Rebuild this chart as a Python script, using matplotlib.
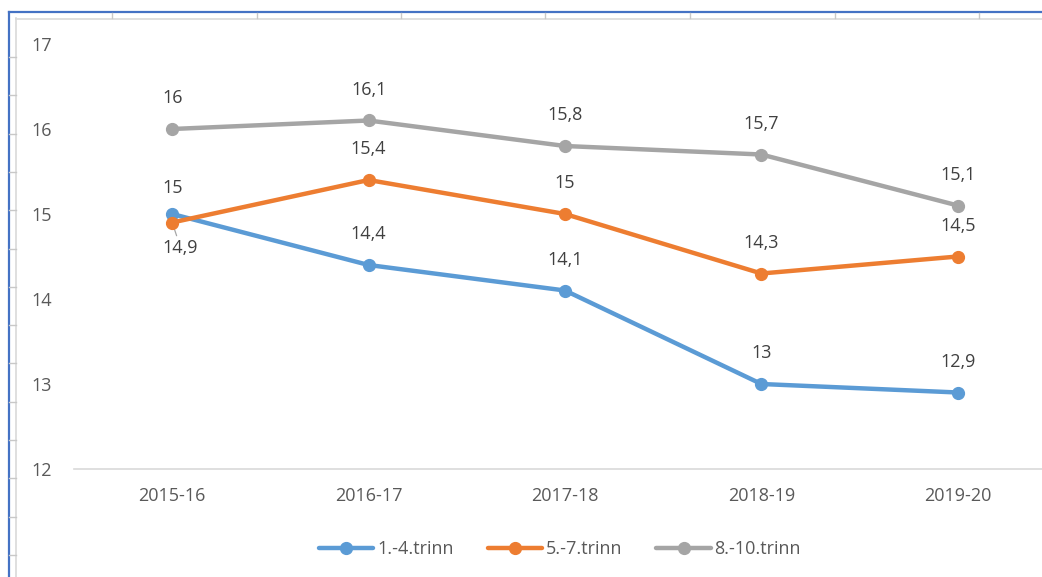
import matplotlib
matplotlib.use("Agg")
import matplotlib.pyplot as plt
from matplotlib.lines import Line2D

plt.rcParams['font.family'] = ['Open Sans', 'DejaVu Sans']

# data
years = ['2015-16', '2016-17', '2017-18', '2018-19', '2019-20']
trinn_1_4 = [15, 14.4, 14.1, 13, 12.9]
trinn_5_7 = [14.9, 15.4, 15, 14.3, 14.5]
trinn_8_10 = [16, 16.1, 15.8, 15.7, 15.1]
series_names = ['1.-4.trinn', '5.-7.trinn', '8.-10.trinn']
yticks = [12, 13, 14, 15, 16, 17]

BLUE = '#5B9BD5'
ORANGE = '#ED7D31'
GRAY = '#A5A5A5'
TXT = '#595959'
LBL = '#404040'
FS = 13

W, H = 1042, 577
fig = plt.figure(figsize=(W / 100, H / 100), dpi=100)
fig.patch.set_facecolor('white')

# screenshot frame (spreadsheet edges)
bg = fig.add_axes([0, 0, 1, 1], zorder=0)
bg.set_xlim(0, W)
bg.set_ylim(H, 0)
bg.axis('off')
bg.add_line(Line2D([8.5, W], [12, 12], color='#4472C4', lw=1.6))
bg.add_line(Line2D([8.5, 8.5], [12, H], color='#4472C4', lw=1.6))
bg.add_line(Line2D([16, W], [18.5, 18.5], color='#D9D9D9', lw=1.2))
bg.add_line(Line2D([16, 16], [18, H], color='#D9D9D9', lw=1.2))
for xs in [112, 257, 401, 545, 690, 835, 979]:
    bg.add_line(Line2D([xs, xs], [13, 18], color='#C8C8C8', lw=1.0))
yy = 57
while yy < H:
    bg.add_line(Line2D([9, 16], [yy, yy], color='#C8C8C8', lw=1.0))
    yy += 38.3

ax = fig.add_axes([74 / W, (H - 469) / H, 982 / W, 425 / H], zorder=1)
ax.patch.set_alpha(0)
x = list(range(len(years)))

ax.plot(x, trinn_1_4, color=BLUE, lw=3.2, marker='o', ms=8.5, label=series_names[0],
        solid_capstyle='round', clip_on=False)
ax.plot(x, trinn_5_7, color=ORANGE, lw=3.2, marker='o', ms=8.5, label=series_names[1],
        solid_capstyle='round', clip_on=False)
ax.plot(x, trinn_8_10, color=GRAY, lw=3.2, marker='o', ms=8.5, label=series_names[2],
        solid_capstyle='round', clip_on=False)

def fmt(v):
    return ('%g' % v).replace('.', ',')

for series in [trinn_1_4, trinn_5_7, trinn_8_10]:
    for i, v in enumerate(series):
        if series is trinn_5_7 and i == 0:
            # label placed below with a short leader line
            ax.annotate(fmt(v), (i, v), xytext=(6, -18), textcoords='offset points',
                        ha='center', va='center', fontsize=FS, color=LBL, zorder=0,
                        arrowprops=dict(arrowstyle='-', color='#A6A6A6', lw=0.9,
                                        shrinkA=0, shrinkB=0))
        elif series is trinn_1_4 and i == 0:
            ax.annotate(fmt(v), (i, v), xytext=(0, 19), textcoords='offset points',
                        ha='center', va='center', fontsize=FS, color=LBL)
        else:
            ax.annotate(fmt(v), (i, v), xytext=(0, 22), textcoords='offset points',
                        ha='center', va='center', fontsize=FS, color=LBL)

ax.set_xlim(-0.5, 4.5)
ax.set_ylim(12, 17)
ax.set_yticks(yticks)
ax.set_yticklabels([str(t) for t in yticks])
ax.set_xticks(x)
ax.set_xticklabels(years)
ax.tick_params(axis='both', length=0, labelsize=FS, labelcolor=TXT)
ax.tick_params(axis='y', pad=16)
ax.tick_params(axis='x', pad=13)
for side in ['top', 'right', 'left']:
    ax.spines[side].set_visible(False)
ax.spines['bottom'].set_color('#D9D9D9')
ax.spines['bottom'].set_linewidth(1.2)

handles, labels = ax.get_legend_handles_labels()
fig.legend(handles, labels, loc='center', bbox_to_anchor=(560 / W, (H - 549) / H),
           ncol=3, frameon=False, fontsize=FS, labelcolor=TXT,
           handlelength=3.0, handletextpad=0.2, columnspacing=1.9)

fig.savefig('out.png', dpi=100)
